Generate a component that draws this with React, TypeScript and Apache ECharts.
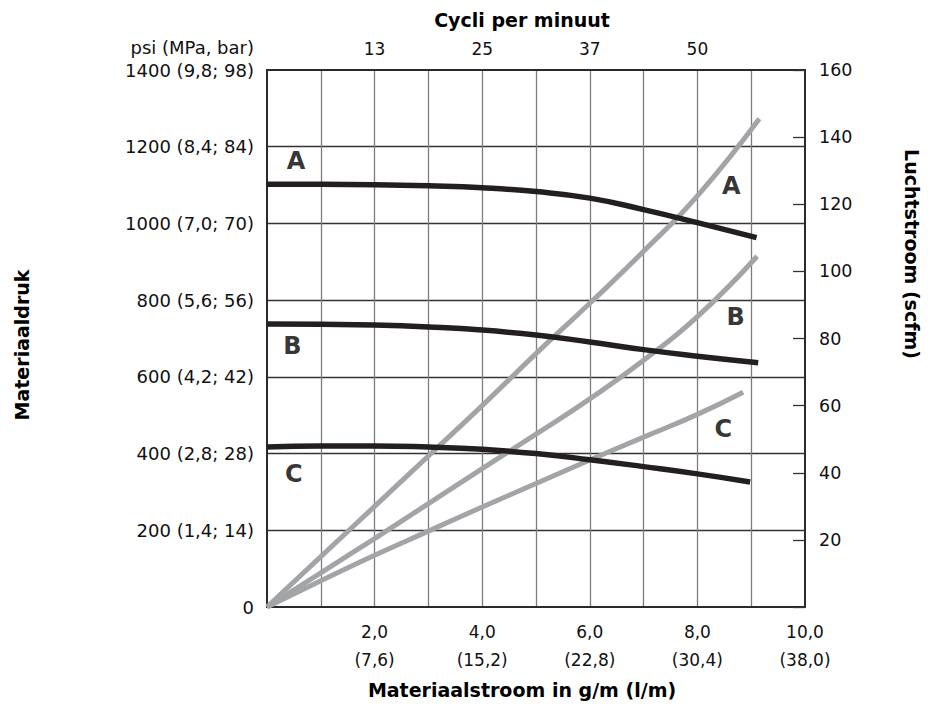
import React, { useEffect, useRef } from "react";
import * as echarts from "echarts";

// ---- Tick labels ----
const flowTickLabels: Record<number, string> = {
  2: "2,0\n(7,6)",
  4: "4,0\n(15,2)",
  6: "6,0\n(22,8)",
  8: "8,0\n(30,4)",
  10: "10,0\n(38,0)",
};
const cycleTickLabels: Record<number, string> = { 2: "13", 4: "25", 6: "37", 8: "50" };
const pressureTickLabels: Record<number, string> = {
  0: "0",
  200: "200 (1,4; 14)",
  400: "400 (2,8; 28)",
  600: "600 (4,2; 42)",
  800: "800 (5,6; 56)",
  1000: "1000 (7,0; 70)",
  1200: "1200 (8,4; 84)",
  1400: "1400 (9,8; 98)",
};

// ---- Material pressure curves (psi vs flow g/m) ----
const pressureFlowA = [0, 1, 2, 3, 4, 5, 6, 7, 8, 9.1];
const pressureA = [1102, 1102, 1101, 1098, 1093, 1083, 1066, 1036, 1002, 963];
const pressureFlowB = [0, 1, 2, 3, 4, 5, 6, 7, 8, 9.13];
const pressureB = [738, 737, 735, 730, 722, 709, 691, 671, 654, 637];
const pressureFlowC = [0, 1, 2, 3, 4, 5, 6, 7, 8, 8.98];
const pressureC = [417, 420, 420, 417, 411, 400, 384, 366, 347, 326];

// ---- Air flow curves (scfm vs flow g/m) ----
const airFlowA = [0, 1, 2, 3, 4, 5, 6, 7, 8, 9.15];
const airA = [0, 15, 30, 45, 60, 75.5, 90.5, 106, 122.5, 145.5];
const airFlowB = [0, 1, 2, 3, 4, 5, 6, 7, 8, 9.11];
const airB = [0, 10.2, 20.4, 30.8, 41.2, 51.5, 62, 73.5, 86.5, 104.5];
const airFlowC = [0, 1, 2, 3, 4, 5, 6, 7, 8, 8.85];
const airC = [0, 7.8, 15.4, 22.6, 29.8, 36.8, 43.8, 50.6, 57.4, 64];

// ---- Curve letters ----
const curveLetters = ["A", "B", "C"];
const pressureLetterFlow = [0.54, 0.47, 0.5];
const pressureLetterValue = [1163, 680, 347];
const airLetterFlow = [8.63, 8.71, 8.48];
const airLetterValue = [125.5, 86.3, 53];

const FONT = "DejaVu Sans";
const BLACK = "#231f20";
const GREY = "#a2a4a7";
const AXIS = "#2a2a2a";

const zip = (xs: number[], ys: number[]) => xs.map((x, i) => [x, ys[i]]);

export default function App() {
  const ref = useRef<HTMLDivElement>(null);

  useEffect(() => {
    document.body.style.margin = "0";
    if (!ref.current) return;
    const chart = echarts.init(ref.current, undefined, { renderer: "svg" });

    const lineSeries = (
      name: string,
      yIdx: number,
      xs: number[],
      ys: number[],
      color: string,
      width: number,
      z: number
    ) => ({
      name,
      type: "line",
      xAxisIndex: 0,
      yAxisIndex: yIdx,
      data: zip(xs, ys),
      smooth: 0.5,
      showSymbol: false,
      symbol: "none",
      lineStyle: { color, width, cap: "butt" },
      z,
      silent: true,
    });
    const letterSeries = (yIdx: number, xs: number[], ys: number[]) => ({
      type: "scatter",
      xAxisIndex: 0,
      yAxisIndex: yIdx,
      data: xs.map((x, i) => [x, ys[i], curveLetters[i]]),
      symbol: "circle",
      symbolSize: 1,
      itemStyle: { color: "rgba(0,0,0,0)" },
      silent: true,
      z: 6,
      label: {
        show: true,
        position: "inside",
        formatter: (p: any) => p.data[2],
        fontFamily: FONT,
        fontWeight: "bold",
        fontSize: 24,
        color: "#000",
      },
    });

    const axisLine = { show: true, onZero: false, lineStyle: { color: AXIS, width: 2 } };

    chart.setOption({
      animation: false,
      textStyle: { fontFamily: FONT },
      grid: {
        left: 267,
        right: 125,
        top: 70,
        bottom: 102,
        containLabel: false,
        outerBoundsMode: "none",
      },
      xAxis: [
        {
          type: "value",
          position: "bottom",
          min: 0,
          max: 10,
          interval: 1,
          axisLine,
          axisTick: { show: false },
          axisLabel: {
            formatter: (v: number) => flowTickLabels[v] ?? "",
            fontSize: 17,
            lineHeight: 28,
            color: "#111",
            margin: 11,
            fontFamily: FONT,
          },
          splitLine: {
            show: true,
            showMinLine: false,
            showMaxLine: false,
            lineStyle: { color: "#7d7d7d", width: 1.3 },
          },
        },
        {
          type: "value",
          position: "top",
          min: 0,
          max: 10,
          interval: 1,
          axisLine,
          axisTick: { show: false },
          axisLabel: {
            formatter: (v: number) => cycleTickLabels[v] ?? "",
            fontSize: 17,
            color: "#111",
            margin: 13,
            fontFamily: FONT,
          },
          splitLine: { show: false },
        },
      ],
      yAxis: [
        {
          type: "value",
          position: "left",
          min: 0,
          max: 1400,
          interval: 200,
          axisLine,
          axisTick: { show: false },
          axisLabel: {
            formatter: (v: number) => pressureTickLabels[v] ?? "",
            fontSize: 18,
            color: "#111",
            margin: 13,
            fontFamily: FONT,
          },
          splitLine: {
            show: true,
            showMinLine: false,
            showMaxLine: false,
            lineStyle: { color: "#333", width: 1.3 },
          },
        },
        {
          type: "value",
          position: "right",
          min: 0,
          max: 160,
          interval: 20,
          axisLine,
          axisTick: {
            show: true,
            inside: true,
            length: 12,
            lineStyle: { color: "#333", width: 1.3 },
          },
          axisLabel: {
            formatter: (v: number) => (v === 0 ? "" : String(v)),
            fontSize: 17.5,
            color: "#111",
            margin: 14,
            fontFamily: FONT,
          },
          splitLine: { show: false },
        },
      ],
      graphic: [
        {
          type: "text",
          x: 254,
          y: 47,
          style: {
            text: "psi (MPa, bar)",
            fontSize: 18,
            fontFamily: FONT,
            fill: "#111",
            align: "right",
            verticalAlign: "middle",
          },
        },
        {
          type: "text",
          x: 522,
          y: 20,
          style: {
            text: "Cycli per minuut",
            fontSize: 19,
            fontWeight: "bold",
            fontFamily: FONT,
            fill: "#000",
            align: "center",
            verticalAlign: "middle",
          },
        },
        {
          type: "text",
          x: 522,
          y: 690,
          style: {
            text: "Materiaalstroom in g/m (l/m)",
            fontSize: 19,
            fontWeight: "bold",
            fontFamily: FONT,
            fill: "#000",
            align: "center",
            verticalAlign: "middle",
          },
        },
        {
          type: "text",
          x: 22,
          y: 345,
          rotation: Math.PI / 2,
          style: {
            text: "Materiaaldruk",
            fontSize: 19,
            fontWeight: "bold",
            fontFamily: FONT,
            fill: "#000",
            align: "center",
            verticalAlign: "middle",
          },
        },
        {
          type: "text",
          x: 912,
          y: 254,
          rotation: -Math.PI / 2,
          style: {
            text: "Luchtstroom (scfm)",
            fontSize: 19,
            fontWeight: "bold",
            fontFamily: FONT,
            fill: "#000",
            align: "center",
            verticalAlign: "middle",
          },
        },
      ],
      series: [
        lineSeries("Lucht A", 1, airFlowA, airA, GREY, 5, 3),
        lineSeries("Lucht B", 1, airFlowB, airB, GREY, 5, 3),
        lineSeries("Lucht C", 1, airFlowC, airC, GREY, 5, 3),
        lineSeries("Druk A", 0, pressureFlowA, pressureA, BLACK, 5.5, 4),
        lineSeries("Druk B", 0, pressureFlowB, pressureB, BLACK, 5.5, 4),
        lineSeries("Druk C", 0, pressureFlowC, pressureC, BLACK, 5.5, 4),
        letterSeries(0, pressureLetterFlow, pressureLetterValue),
        letterSeries(1, airLetterFlow, airLetterValue),
      ],
    });

    return () => chart.dispose();
  }, []);

  return <div ref={ref} style={{ width: 930, height: 709 }} />;
}
